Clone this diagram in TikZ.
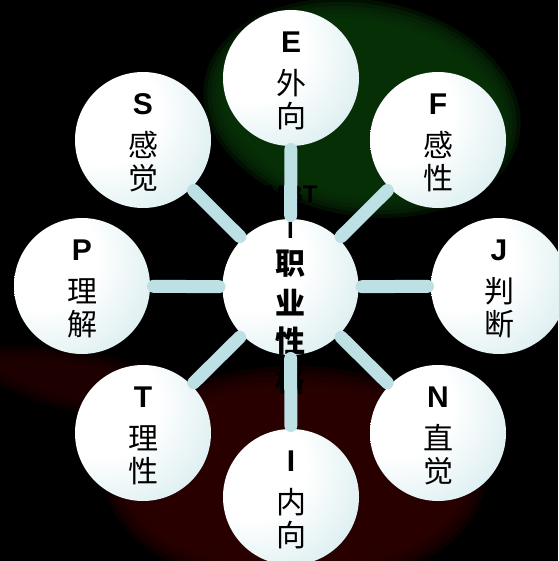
\documentclass[tikz,border=0pt]{standalone}
\usepackage{fontspec}
\setmainfont{Liberation Sans}
\newfontfamily\cjk{Noto Sans CJK SC}
\usetikzlibrary{calc}
\definecolor{bubbleblue}{RGB}{180,219,224}
\definecolor{connblue}{RGB}{189,224,228}
\definecolor{bggreen}{RGB}{9,54,9}
\definecolor{bgred}{RGB}{48,0,0}
\pgfdeclareradialshading{bubbleshade}{\pgfpoint{-18bp}{14bp}}{color(0bp)=(white); color(20bp)=(white); color(64bp)=(bubbleblue); color(100bp)=(bubbleblue)}
\begin{document}
\begin{tikzpicture}[x=1pt,y=-1pt,
  bubble/.style={circle, minimum size=136pt, inner sep=0pt, outer sep=0pt, shade, shading=bubbleshade, draw=none},
  conn/.style={draw=connblue, line width=13pt, line cap=round, shorten <=3.5pt, shorten >=3.5pt},
  letter/.style={font=\fontsize{30}{30}\selectfont\bfseries, inner sep=0pt, text=black},
  hanzi/.style={font=\fontsize{30}{30}\selectfont\cjk, inner sep=0pt, text=black},
  ctext/.style={font=\fontsize{30}{30}\selectfont\cjk\bfseries, inner sep=0pt, text=black},
  clat/.style={font=\fontsize{24}{24}\selectfont\bfseries, inner sep=0pt, text=black}]
\useasboundingbox (0,0) rectangle (558,561);
\fill[black] (0,0) rectangle (558,561);
\begin{scope}
\clip (0,0) rectangle (558,561);
% green blob
\foreach \i in {0,...,5}{
  \fill[bggreen, opacity=0.3, rotate around={-10:(362,108)}] (362,108) ellipse ({160-4*\i} and {108-4*\i});
}
% red blob
\foreach \i in {0,...,5}{
  \fill[bgred, opacity=0.3] (295,478) ellipse ({190-5*\i} and {112-5*\i});
  \fill[bgred, opacity=0.16, rotate around={-12:(95,385)}] (95,385) ellipse ({125-5*\i} and {32-3*\i});
}
\end{scope}
% circles
\node[bubble] (C) at (290.5,287) {};
\foreach \n/\x/\y in {E/291/78, S/143/140, F/438/140, P/82/286, J/499/286, T/143/433, N/438/433, I/291/497}{
  \node[bubble] (\n) at (\x,\y) {};
}
% centre text
\node[clat] (c0) at (291.5,194) {MBT};
\node[clat] (c1) at (290.5,230) {I};
\node[ctext] (c2) at (290.5,263.5) {职};
\node[ctext] (c3) at (290.5,303) {业};
\node[ctext] (c4) at (290.5,341) {性};
\node[ctext] (c5) at (290.5,380) {格};
% connectors
\foreach \n in {E,S,F,P,J,T,N,I}{
  \draw[conn] (C) -- (\n);
}
% outer texts
\foreach \n/\a/\b/\c in {E/E/外/向, S/S/感/觉, F/F/感/性, P/P/理/解, J/J/判/断, T/T/理/性, N/N/直/觉, I/I/内/向}{
  \node[letter] (\n-l) at ($(\n)+(0,-36)$) {\a};
  \node[hanzi] (\n-a) at ($(\n)+(0,5)$) {\b};
  \node[hanzi] (\n-b) at ($(\n)+(0,38)$) {\c};
}
\end{tikzpicture}
\end{document}
